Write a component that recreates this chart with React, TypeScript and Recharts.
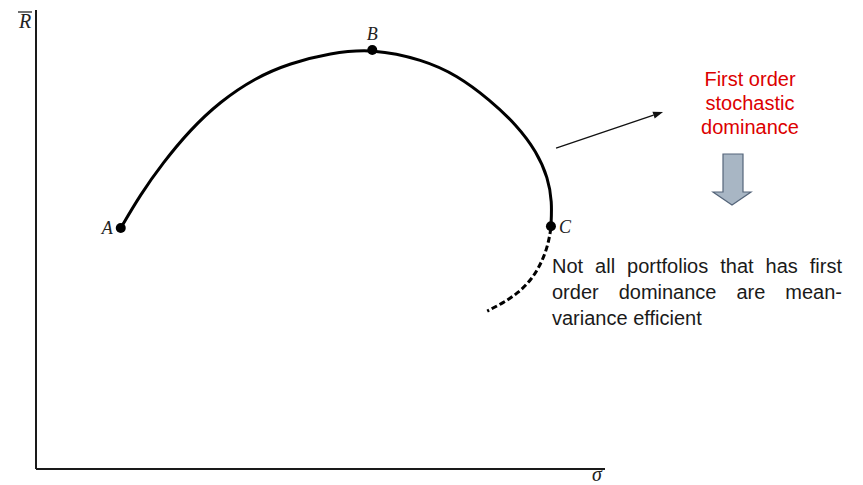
import React from "react";
import {
  ComposedChart,
  Label,
  Line,
  ReferenceDot,
  ReferenceLine,
  XAxis,
  YAxis,
} from "recharts";

// efficient frontier A -> B -> C (sigma, mean return)
const frontierSigma = [
  1.49, 1.83, 2.23, 2.71, 3.23, 3.85, 4.46, 5.17, 5.91, 6.8, 7.4, 7.98, 8.45,
  8.8, 9.0, 9.07, 9.05,
];
const frontierReturn = [
  5.25, 5.97, 6.67, 7.39, 8.0, 8.52, 8.84, 9.06, 9.16, 8.92, 8.58, 8.04, 7.49,
  6.91, 6.34, 5.82, 5.29,
];

// dashed continuation below C
const lowerSigma = [9.05, 9.0, 8.89, 8.72, 8.47, 8.21, 7.93];
const lowerReturn = [5.25, 4.88, 4.51, 4.14, 3.83, 3.62, 3.44];

const portfolioNames = ["A", "B", "C"];
const portfolioSigma = [1.49, 5.91, 9.05];
const portfolioReturn = [5.25, 9.13, 5.29];
const labelSides = ["left", "top", "right"] as const;

// pointer from the frontier towards the note
const pointerSigma = [9.14, 11.02];
const pointerReturn = [6.99, 7.78];

const noteTitle = ["First order", "stochastic", "dominance"];
const noteBody =
  "Not all portfolios that has first order dominance are mean-variance efficient";

const frontier = frontierSigma.map((sigma, i) => ({
  sigma,
  ret: frontierReturn[i],
}));
const lower = lowerSigma.map((sigma, i) => ({ sigma, ret: lowerReturn[i] }));

const serif = "'Liberation Serif', 'DejaVu Serif', serif";
const sans = "'Liberation Sans', Arial, sans-serif";

const RBarLabel = (props: any) => {
  const { x, y, width } = props.viewBox;
  const ax = x + width;
  return (
    <g>
      <text
        x={ax - 11}
        y={y + 18}
        textAnchor="middle"
        fontFamily={serif}
        fontStyle="italic"
        fontSize={20}
        fill="#222"
      >
        R
      </text>
      <line x1={ax - 18} x2={ax - 4} y1={y + 2} y2={y + 2} stroke="#222" strokeWidth={1.3} />
    </g>
  );
};

const SigmaLabel = (props: any) => {
  const { x, y, width } = props.viewBox;
  return (
    <text
      x={x + width - 8}
      y={y + 12}
      textAnchor="middle"
      fontFamily={serif}
      fontStyle="italic"
      fontSize={20}
      fill="#222"
    >
      σ
    </text>
  );
};

const ArrowShape = (props: any) => {
  const { x1, y1, x2, y2 } = props;
  const a = Math.atan2(y2 - y1, x2 - x1);
  const len = 10;
  const w = 3.5;
  const bx = x2 - len * Math.cos(a);
  const by = y2 - len * Math.sin(a);
  const p1 = `${bx + w * Math.sin(a)},${by - w * Math.cos(a)}`;
  const p2 = `${bx - w * Math.sin(a)},${by + w * Math.cos(a)}`;
  return (
    <g>
      <line x1={x1} y1={y1} x2={bx} y2={by} stroke="#111" strokeWidth={1.3} />
      <polygon points={`${x2},${y2} ${p1} ${p2}`} fill="#111" />
    </g>
  );
};

export default function App() {
  return (
    <div
      style={{
        position: "absolute",
        left: 0,
        top: 0,
        width: 863,
        height: 485,
        background: "#fff",
        overflow: "hidden",
      }}
    >
      <ComposedChart
        width={863}
        height={485}
        margin={{ top: 10, right: 258, bottom: 15, left: 35 }}
      >
        <XAxis
          type="number"
          dataKey="sigma"
          domain={[0, 10]}
          tick={false}
          tickLine={false}
          height={1}
          axisLine={{ stroke: "#1a1a1a", strokeWidth: 2 }}
        >
          <Label content={SigmaLabel} />
        </XAxis>
        <YAxis
          type="number"
          dataKey="ret"
          domain={[0, 10]}
          tick={false}
          tickLine={false}
          width={1}
          axisLine={{ stroke: "#1a1a1a", strokeWidth: 2 }}
        >
          <Label content={RBarLabel} />
        </YAxis>
        <Line
          data={frontier}
          dataKey="ret"
          type="basis"
          stroke="#000"
          strokeWidth={3}
          dot={false}
          activeDot={false}
          isAnimationActive={false}
        />
        <Line
          data={lower}
          dataKey="ret"
          type="basis"
          stroke="#000"
          strokeWidth={3}
          strokeDasharray="6 3"
          dot={false}
          activeDot={false}
          isAnimationActive={false}
        />
        <ReferenceLine
          segment={[
            { x: pointerSigma[0], y: pointerReturn[0] },
            { x: pointerSigma[1], y: pointerReturn[1] },
          ]}
          ifOverflow="visible"
          shape={ArrowShape}
        />
        {portfolioNames.map((name, i) => (
          <ReferenceDot
            key={name}
            x={portfolioSigma[i]}
            y={portfolioReturn[i]}
            r={5}
            fill="#000"
            stroke="none"
            label={{
              value: name,
              position: labelSides[i],
              offset: i === 1 ? 5 : 3,
              fill: "#222",
              fontSize: 18,
              fontStyle: "italic",
              fontFamily: serif,
            }}
          />
        ))}
      </ComposedChart>

      <svg
        width={863}
        height={485}
        style={{ position: "absolute", left: 0, top: 0, pointerEvents: "none" }}
      >
        <polygon
          points="723,154 743,154 743,192 751,192 732,205 713,192 723,192"
          fill="#a8b6c4"
          stroke="#55657a"
          strokeWidth={1.2}
        />
      </svg>

      <div
        style={{
          position: "absolute",
          left: 650,
          top: 67,
          width: 200,
          textAlign: "center",
          fontFamily: sans,
          fontSize: 20,
          lineHeight: "24px",
          color: "#dc0000",
        }}
      >
        {noteTitle.map((line) => (
          <div key={line}>{line}</div>
        ))}
      </div>

      <div
        style={{
          position: "absolute",
          left: 552,
          top: 253,
          width: 290,
          textAlign: "justify",
          fontFamily: sans,
          fontSize: 20,
          lineHeight: "26px",
          color: "#1a1a1a",
        }}
      >
        {noteBody}
      </div>
    </div>
  );
}
